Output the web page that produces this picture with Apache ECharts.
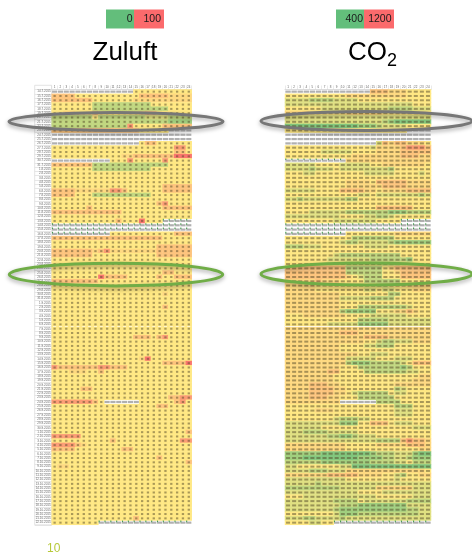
<!DOCTYPE html>
<html>
<head>
<meta charset="utf-8">
<style>html,body{margin:0;padding:0;background:#fff}#c{width:472px;height:555px;filter:blur(0.35px)}</style>
<script src="https://cdn.jsdelivr.net/npm/echarts@6/dist/echarts.min.js"></script>
</head>
<body>
<div id="c"></div>
<script>
const hours = ["1","2","3","4","5","6","7","8","9","10","11","12","13","14","15","16","17","18","19","20","21","22","23","24"];
// one string per day, one character per hour: a level 0..9 read off the colour scale, "-" = no reading
const levelShare = [0, 0.1, 0.2, 0.3, 0.4, 0.5, 0.56, 0.64, 0.8, 0.95];
const Y = "555555 555555 555555 555555";
const M = "------ ------ ------ ------";
const zuluftRows = [
"------ ------ --5555 555555",
"777755 555555 555777 776666",
"777777 755555 556666 666666",
"555555 533333 333335 555555",
"555555 533333 333333 335555",
"556655 575555 555677 555555",
"333333 353333 333344 443333",
"333333 333333 333333 332222",
"333333 333333 385555 577777",
"777777 777777 777555 55----",
M, M,
"------ ------ ---577 555555",
"555555 555555 555555 555885",
"555555 555555 555555 555775",
"555555 555555 667777 777999",
"------ ----55 585555 585555",
"777777 733333 333333 335555",
"555555 533333 333335 555555",
Y, Y, Y,
"555555 555555 555555 577777",
"777766 666688 755555 577777",
"777755 533333 333335 555555",
Y,
"555555 555555 555555 785555",
"555555 755555 555555 577777",
"777777 777777 555555 555555",
Y,
"555555 555557 555955 5-----",
M, M,
"------ ----55 555555 555777",
"777777 777777 777777 755555",
Y,
"555555 555555 555555 777777",
"777777 767866 666666 777777",
"777777 755555 555555 777777",
Y, Y, Y,
"555555 555555 555555 577555",
"555555 559777 755555 755777",
"777777 775555 555555 555555",
Y, Y,
"555555 555555 555555 565555",
Y, Y,
"555555 555555 555555 575555",
Y, Y, Y, Y, Y, Y,
"555555 555555 557775 785555",
Y, Y, Y, Y,
"555555 555555 555695 555555",
"555555 555555 555555 577779",
"877777 778877 755555 555555",
"555666 557555 555555 555555",
Y, Y, Y,
"555557 755555 555555 555555",
Y,
"555555 555555 555555 557788",
"888888 875--- ---555 555785",
"555555 555555 555555 775555",
Y, Y, Y, Y, Y,
"555555 555555 555555 555557",
"888885 555555 555555 555555",
"555555 555575 555555 555588",
"888876 555555 555555 555555",
"777755 555555 775555 555555",
Y,
"555555 555555 555555 755555",
"555555 555555 555555 555557",
"566555 555555 555555 555555",
Y, Y, Y, Y, Y, Y, Y, Y, Y, Y, Y,
"555555 555555 557555 555555",
"555555 55---- ------ ------"
];
const co2Rows = [
"------ ------ --7776 665555",
"555555 555566 666666 665555",
"444433 334444 555555 555555",
"444444 444444 444444 444555",
"555555 444444 444443 333444",
"666655 555566 666655 555555",
"444444 444444 444444 444444",
"444444 444444 444432 111111",
"111111 111111 222344 445555",
"555555 555555 555555 55----",
M, M,
"------ ------ ---476 776665",
"555555 555555 554666 678887",
"555555 444445 555666 677777",
"555555 555556 666666 677766",
"------ ----66 666666 666666",
"444445 555444 445566 666665",
"444434 445444 444443 555555",
"555445 555555 544444 555545",
"555555 555555 555555 555555",
"555555 555566 665777 776666",
"555555 555566 666677 776666",
"444445 555777 766566 667777",
"555555 555555 445444 444434",
"443444 444433 555555 555555",
"555555 555555 555555 555555",
"555555 555555 555777 777555",
"555544 444433 333332 223333",
"444444 444555 544334 555555",
"555555 554444 444555 5-----",
M, M,
"------ ----55 555555 666666",
"555555 555553 333333 555555",
"555555 555433 444443 222222",
"333444 555555 544445 555555",
"555555 555555 555555 555555",
"555555 554333 333333 355555",
"555555 544444 443333 332555",
"555555 555544 444444 455555",
"777777 777733 333356 777777",
"777777 777733 333355 677777",
"777777 777765 433355 577777",
"666667 666555 533333 355555",
"666665 555555 555445 556666",
"666665 555555 544544 555666",
"666666 666555 555553 355555",
"666666 666444 443333 555555",
"666666 666555 555555 555555",
"666666 666555 333333 334555",
"666666 666322 222555 667655",
"555666 666655 554444 445555",
"555555 555555 333334 444444",
"555555 544444 222224 444444",
"666666 666666 666666 666666",
"666666 666777 666666 666666",
"666666 666666 677776 666666",
"666666 666666 655433 444666",
"666666 666555 544333 555555",
"666666 666555 555555 555555",
"666666 666666 554445 555555",
"666666 666644 444555 444555",
"666666 666632 223333 345777",
"666666 666555 333333 323555",
"666666 677555 533333 334455",
"666666 665555 555555 555566",
"666666 665555 555555 555666",
"666677 766555 555555 666666",
"666677 776655 555555 345555",
"666677 776654 333335 445555",
"666677 766555 333333 555555",
"666666 666--- ---333 355555",
"555555 555555 555555 333555",
"555556 665555 555555 444555",
"555555 555555 555555 444555",
"555555 554333 445555 555555",
"444444 444222 557775 444555",
"444444 555555 555555 555444",
"444333 344444 555555 555555",
"444444 433223 444555 555555",
"444444 444444 444333 378776",
"666666 666655 555666 667776",
"666666 666655 555555 555566",
"222222 111111 112333 444211",
"222111 111111 222233 443222",
"333333 222222 223333 445333",
"445555 555441 111111 111111",
"444433 344466 666666 666665",
"666666 677777 666655 435566",
"444444 444455 555555 455555",
"444443 444444 444444 444444",
"333333 333444 444666 666444",
"444444 444444 555544 444444",
"555444 444444 444555 555444",
"444444 443333 544444 443333",
"444444 444333 222222 224444",
"444444 443222 222222 223344",
"555555 554222 333333 333344",
"444334 444344 444444 444444",
"555544 55---- ------ ------"
];
const flaggedZuluft = [30, 31, 32, 33, 100];
const flaggedCo2 = [16, 30, 31, 32, 33, 100];
const gapRow = [54];
const dayLabels = [];
for (let i = 0, d = new Date(Date.UTC(2015, 6, 14)); i < zuluftRows.length; i++, d.setUTCDate(d.getUTCDate() + 1)) {
  dayLabels.push(d.getUTCDate() + "." + (d.getUTCMonth() + 1) + "." + d.getUTCFullYear());
}
const legendZuluft = ["0", "100"];
const legendCo2 = ["400", "1200"];
const scaleZuluft = [0, 100];
const scaleCo2 = [400, 1200];

function decode(rows, scale) {
  const cells = [], missing = [];
  rows.forEach((row, r) => {
    row.replace(/ /g, "").split("").forEach((ch, c) => {
      if (ch === "-") missing.push([c, r]);
      else cells.push([c, r, scale[0] + levelShare[+ch] * (scale[1] - scale[0])]);
    });
  });
  return { cells, missing };
}
const zu = decode(zuluftRows, scaleZuluft);
const co = decode(co2Rows, scaleCo2);

const GREEN = "#63BE7B", YELLOW = "#FFE884", RED = "#F8696B";
const rowH = 4.31, gridTop = 89.5, gridH = rowH * zuluftRows.length;
const LIGHT = "#dcdcdc";

function xAx(i) {
  return { type: "category", gridIndex: i, data: hours, position: "top", boundaryGap: true,
    axisLine: { show: true, lineStyle: { color: LIGHT, width: 1 } },
    axisTick: { show: true, length: 4, interval: 0, lineStyle: { color: LIGHT, width: 0.6 } },
    axisLabel: { show: true, interval: 0, fontSize: 3, margin: 0.6, color: "#666", fontFamily: "Liberation Sans" },
    splitLine: { show: false } };
}
function yAx(i, showLabels) {
  return { type: "category", gridIndex: i, data: dayLabels, inverse: true, boundaryGap: true,
    axisLine: { show: false },
    axisTick: { show: showLabels, length: 17, interval: 0, lineStyle: { color: LIGHT, width: 0.7 } },
    axisLabel: { show: showLabels, interval: 0, fontSize: 3, margin: 1, color: "#666", fontFamily: "Liberation Sans" },
    splitLine: { show: false } };
}
function panel(i, d, flagged, markSize, cellW) {
  const common = { xAxisIndex: i, yAxisIndex: i, animation: false, progressive: 0, silent: true };
  return [
    Object.assign({ type: "heatmap", data: d.cells, itemStyle: { borderWidth: 0 }, z: 1 }, common),
    Object.assign({ type: "scatter", data: d.cells.map(p => [p[0], p[1]]), symbol: "rect", symbolSize: markSize,
      itemStyle: { color: "rgba(80,70,40,0.62)" }, z: 3 }, common),
    Object.assign({ type: "scatter", data: d.missing, symbol: "rect", symbolSize: [cellW - 0.7, 2.2],
      itemStyle: { color: "#9c9c9c" }, z: 3 }, common),
    Object.assign({ type: "scatter", data: d.missing.filter(p => flagged.includes(p[1])), symbol: "rect",
      symbolSize: [1.1, 1.6], symbolOffset: [-(cellW / 2 - 0.8), -1.3], itemStyle: { color: "#1f8a2c" }, z: 4 }, common),
    Object.assign({ type: "scatter", data: gapRow.flatMap(r => hours.map((h, c) => [c, r])), symbol: "rect",
      symbolSize: i === 0 ? [3, 0.9] : [cellW + 0.2, 1.1], symbolOffset: [0, rowH / 2],
      itemStyle: { color: i === 0 ? "rgba(255,255,255,0.85)" : "#fff" }, z: 4 }, common)
  ];
}
function ring(cx, cy, rx, ry, color) {
  return { type: "ellipse", z: 100, shape: { cx, cy, rx, ry },
    style: { fill: "none", stroke: color, lineWidth: 3, shadowBlur: 4, shadowColor: "rgba(0,0,0,0.35)", shadowOffsetY: 2 } };
}
function swatch(x, w, color) {
  return { type: "rect", z: 50, shape: { x, y: 9.5, width: w, height: 19 }, style: { fill: color } };
}
function txt(x, y, text, size, fill, align) {
  return { type: "text", z: 60, x, y,
    style: { text, fontSize: size, fontFamily: "Liberation Sans", fill, align: align || "left", verticalAlign: "middle" } };
}

const chart = echarts.init(document.getElementById("c"), null, { renderer: "canvas" });
chart.setOption({
  animation: false,
  backgroundColor: "#fff",
  grid: [
    { left: 51.7, top: gridTop, width: 140, height: gridH },
    { left: 285, top: gridTop, width: 146, height: gridH }
  ],
  xAxis: [xAx(0), xAx(1)],
  yAxis: [yAx(0, true), yAx(1, false)],
  visualMap: [
    { show: false, type: "continuous", seriesIndex: 0, min: scaleZuluft[0], max: scaleZuluft[1], inRange: { color: [GREEN, YELLOW, RED] } },
    { show: false, type: "continuous", seriesIndex: 5, min: scaleCo2[0], max: scaleCo2[1], inRange: { color: [GREEN, YELLOW, RED] } }
  ],
  series: panel(0, zu, flaggedZuluft, [2.3, 2], 5.83).concat(panel(1, co, flaggedCo2, [4, 2], 6.08)),
  graphic: [
    { type: "rect", z: 0, shape: { x: 34.7, y: 85.3, width: 17, height: gridH + 4.2 }, style: { fill: "none", stroke: LIGHT, lineWidth: 0.8 } },
    swatch(106, 28, GREEN), swatch(134, 30, "#FB6A6C"),
    swatch(336, 28, GREEN), swatch(364, 30, "#FB6A6C"),
    txt(132.5, 19.5, legendZuluft[0], 10.5, "#1a1a1a", "right"),
    txt(161, 19.5, legendZuluft[1], 10.5, "#1a1a1a", "right"),
    txt(363, 19.5, legendCo2[0], 10.5, "#1a1a1a", "right"),
    txt(391.5, 19.5, legendCo2[1], 10.5, "#1a1a1a", "right"),
    txt(92.5, 53, "Zuluft", 26, "#000"),
    txt(348, 53, "CO", 26, "#000"),
    txt(387, 61.5, "2", 18, "#000"),
    txt(47, 548.5, "10", 12, "#B7C93A"),
    ring(116, 121.5, 107, 9, "#777777"),
    ring(366.5, 121, 105.5, 9.5, "#777777"),
    ring(116, 274.6, 106.7, 11.3, "#70AD47"),
    ring(366.5, 274, 105.5, 11, "#70AD47")
  ]
});
</script>
</body>
</html>
